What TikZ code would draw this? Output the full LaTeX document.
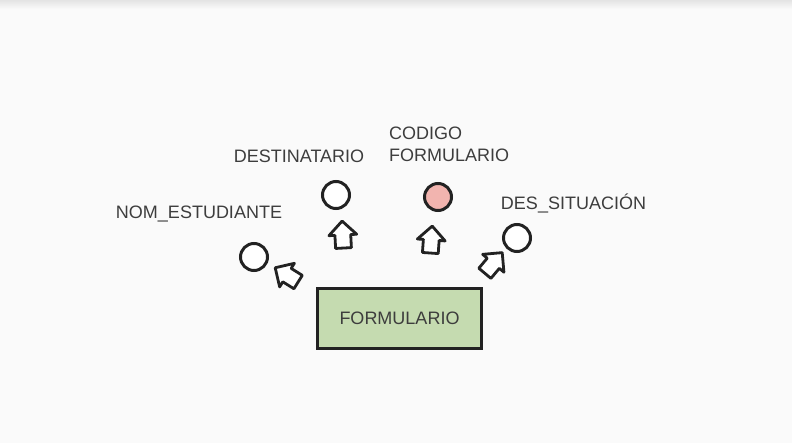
\documentclass[tikz,border=0pt]{standalone}
\usepackage{fontspec}
\setmainfont{Liberation Sans}
\usepackage{xcolor}
\usepackage{tikz}
\usetikzlibrary{arrows, shapes.arrows, fit}

\definecolor{fondo}{HTML}{FAFAFA}
\definecolor{sombra}{HTML}{E4E4E4}
\definecolor{verde}{HTML}{C5DBB0}
\definecolor{rosa}{HTML}{F2B4AF}
\definecolor{texto}{HTML}{3D3D3D}
\definecolor{trazo}{HTML}{222222}

\tikzset{
    etiqueta/.style={inner sep=0pt, text=texto, font=\fontsize{18}{22.5}\selectfont},
    atributo/.style={circle, draw=trazo, line width=3pt, fill=white, minimum size=27pt, inner sep=0pt},
    flecha/.style={single arrow, draw=trazo, line width=2.8pt, fill=white, line join=round,
        minimum height=27pt, inner xsep=0pt, inner ysep=6.5pt,
        single arrow head extend=6pt, single arrow tip angle=90}
}

\begin{document}
\begin{tikzpicture}[x=1pt, y=-1pt]
    % Fondo
    \fill[fondo] (0,0) rectangle (792,443);
    \shade[top color=sombra, bottom color=fondo] (0,0) rectangle (792,9);
    \useasboundingbox (0,0) rectangle (792,443);

    % La entidad
    \node[draw=trazo, line width=3pt, fill=verde, minimum width=164pt, minimum height=60pt,
        etiqueta] (formulario) at (399.5,318.5) {FORMULARIO};

    % Los atributos
    \node[atributo] (nomEst) at (254,257) {};
    \node[atributo] (dest) at (336,195) {};
    \node[atributo, fill=rosa] (codForm) at (438,197) {};
    \node[atributo] (desSit) at (517,238) {};

    % Las flechas
    \node[flecha, rotate=148] (fNomEst) at (290,277) {};
    \node[flecha, rotate=93] (fDest) at (343,238.5) {};
    \node[flecha, rotate=86] (fCodForm) at (431,243.5) {};
    \node[flecha, rotate=50] (fDesSit) at (491,266) {};

    % Los nombres
    \node[etiqueta, anchor=base] (lNomEst) at (199,218.5) {NOM\_ESTUDIANTE};
    \node[etiqueta, anchor=base] (lDest) at (299,162.5) {DESTINATARIO};
    \node[etiqueta, anchor=west, align=left] (lCodForm) at (389,144.5) {CODIGO\\FORMULARIO};
    \node[etiqueta, anchor=base] (lDesSit) at (573.5,209.5) {DES\_SITUACIÓN};
\end{tikzpicture}
\end{document}
